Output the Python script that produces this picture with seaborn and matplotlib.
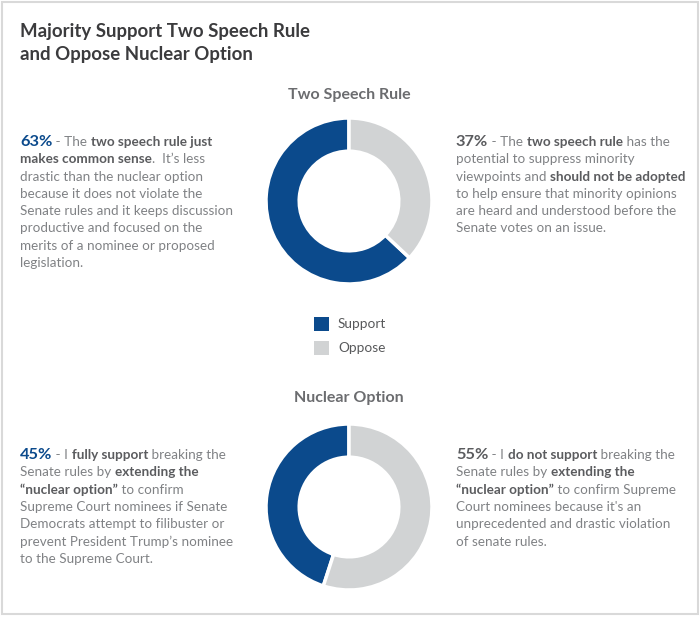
import matplotlib
matplotlib.use("Agg")
import matplotlib.pyplot as plt
from matplotlib.patches import Rectangle
import seaborn as sns

# data
categories = ["Support", "Oppose"]
two_speech = [63, 37]
nuclear = [45, 55]
panel_titles = ["Two Speech Rule", "Nuclear Option"]

BLUE = "#0b4a8c"
GRAY = "#d1d3d4"
BODY = "#808285"
BOLD = "#5b5c5f"
TITLE = "#3b3b3d"

BODY_SIZE = 9.75

sns.set_theme(style="white")
plt.rcParams["font.family"] = ["Lato", "DejaVu Sans"]

W, H = 700, 617
fig = plt.figure(figsize=(W / 100, H / 100), dpi=100)
fig.patch.set_facecolor("white")
bg = fig.add_axes([0, 0, 1, 1])
bg.set_xlim(0, W)
bg.set_ylim(H, 0)
bg.axis("off")

bg.add_patch(Rectangle((1.5, 1.5), W - 4, H - 5, fill=False,
                       edgecolor="#d9d9d9", linewidth=1.5))

bg.text(20, 37, "Majority Support Two Speech Rule", fontsize=13.4,
        fontweight="bold", color=TITLE, va="baseline")
bg.text(20, 60, "and Oppose Nuclear Option", fontsize=13.4,
        fontweight="bold", color=TITLE, va="baseline")

renderer = fig.canvas.get_renderer()


def seg_width(txt, **kw):
    # measure with a sentinel so trailing spaces count
    a = bg.text(0, 0, txt + "|", **kw)
    b = bg.text(0, 0, "|", **kw)
    w = a.get_window_extent(renderer).width - b.get_window_extent(renderer).width
    a.remove()
    b.remove()
    return w


def rich_block(x, y0, lines, step=17.3):
    for i, line in enumerate(lines):
        cx = x
        y = y0 + i * step
        for seg in line:
            if isinstance(seg, str):
                seg = (seg, "normal", BODY, BODY_SIZE)
            txt, weight, color, size = seg
            kw = dict(fontsize=size, fontweight=weight, color=color, va="baseline")
            bg.text(cx, y, txt, **kw)
            cx += seg_width(txt, **kw)


def pct(v, color):
    return (f"{v}%", "bold", color, 11.8)


def b(txt):
    return (txt, "bold", BOLD, BODY_SIZE)


rich_block(20, 146, [
    [pct(two_speech[0], BLUE), " - The ", b("two speech rule just")],
    [b("makes common sense"), ".  It\u2019s less"],
    ["drastic than the nuclear option"],
    ["because it does not violate the"],
    ["Senate rules and it keeps discussion"],
    ["productive and focused on the"],
    ["merits of a nominee or proposed"],
    ["legislation."],
])

rich_block(456, 146, [
    [pct(two_speech[1], BOLD), " - The ", b("two speech rule"), " has the"],
    ["potential to suppress minority"],
    ["viewpoints and ", b("should not be adopted")],
    ["to help ensure that minority opinions"],
    ["are heard and understood before the"],
    ["Senate votes on an issue."],
])

rich_block(20, 459, [
    [pct(nuclear[0], BLUE), " - I ", b("fully support"), " breaking the"],
    ["Senate rules by ", b("extending the")],
    [b("\u201cnuclear option\u201d"), " to confirm"],
    ["Supreme Court nominees if Senate"],
    ["Democrats attempt to filibuster or"],
    ["prevent President Trump\u2019s nominee"],
    ["to the Supreme Court."],
])

rich_block(456, 459, [
    [pct(nuclear[1], BOLD), " - I ", b("do not support"), " breaking the"],
    ["Senate rules by ", b("extending the")],
    [b("\u201cnuclear option\u201d"), " to confirm Supreme"],
    ["Court nominees because it's an"],
    ["unprecedented and drastic violation"],
    ["of senate rules."],
])

# donuts
R = 83
for values, cy, title, ty in [(two_speech, 201, panel_titles[0], 99),
                              (nuclear, 507, panel_titles[1], 402)]:
    ax = fig.add_axes([(349 - R) / W, (H - cy - R) / H, 2 * R / W, 2 * R / H])
    ax.pie(values, colors=[BLUE, GRAY], startangle=90, counterclock=True,
           radius=1, wedgeprops=dict(width=0.4, edgecolor="white", linewidth=2.5))
    ax.set_xlim(-1, 1)
    ax.set_ylim(-1, 1)
    ax.set_aspect("equal")
    ax.axis("off")
    bg.text(349, ty, title, fontsize=11.5, fontweight="bold", color="#6b6c6f",
            ha="center", va="baseline")

# legend
for i, (cat, col) in enumerate(zip(categories, [BLUE, GRAY])):
    y = 317 + i * 24
    bg.add_patch(Rectangle((314, y), 15, 14, facecolor=col, edgecolor="none"))
    bg.text(338, y + 11, cat, fontsize=9.8, color="#58595b", va="baseline")

fig.savefig("out.png", dpi=100)
